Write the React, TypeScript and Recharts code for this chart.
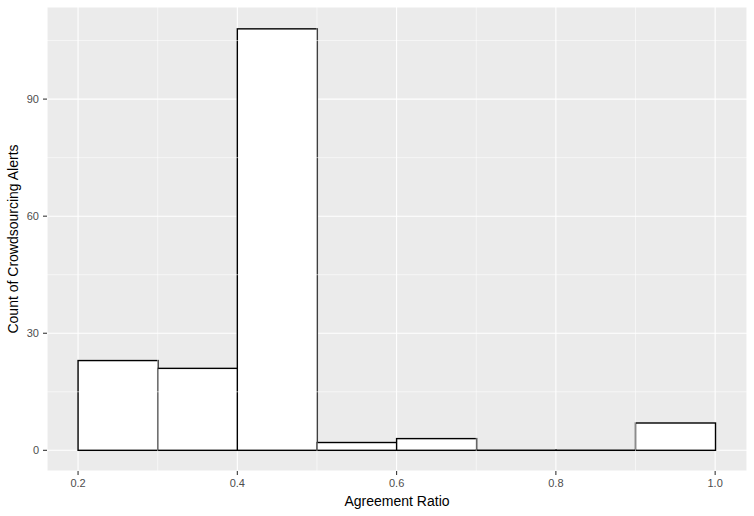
import React from 'react';
import { ComposedChart, Bar, XAxis, YAxis, CartesianGrid, ReferenceLine, Label } from 'recharts';

// histogram bins (bin width 0.1)
const binMids = [0.25, 0.35, 0.45, 0.55, 0.65, 0.75, 0.85, 0.95];
const binCounts = [23, 21, 108, 2, 3, 0, 0, 7];

const xTicks = [0.2, 0.4, 0.6, 0.8, 1.0];
const yTicks = [0, 30, 60, 90];
const xMinor = [0.3, 0.5, 0.7, 0.9];
const yMinor = [15, 45, 75, 105];

const data = binMids.map((mid, i) => ({ mid, count: binCounts[i] }));

const FONT = '"Liberation Sans", Arial, sans-serif';

// draw zero-height bins too, ggplot shows them as a flat line
const BinShape = (props: any) => {
  const { x, y, width, height } = props;
  if (x == null || width == null) return null;
  return <rect x={x} y={y} width={width} height={Math.max(height || 0, 0)} fill="#FFFFFF" stroke="#000000" strokeWidth={1.4} />;
};

const App: React.FC = () => {
  return (
    <div style={{ position: 'absolute', left: 0, top: 0, width: 754, height: 516, background: '#FFFFFF' }}>
      <ComposedChart
        width={754}
        height={516}
        data={data}
        margin={{ top: 7, right: 7, bottom: 0, left: 0 }}
        barCategoryGap={0}
        barGap={0}
      >
        <CartesianGrid stroke="#FFFFFF" strokeWidth={1.07} fill="#EBEBEB" />
        {xMinor.map(v => (
          <ReferenceLine key={`x${v}`} x={v} stroke="#FFFFFF" strokeWidth={0.55} />
        ))}
        {yMinor.map(v => (
          <ReferenceLine key={`y${v}`} y={v} stroke="#FFFFFF" strokeWidth={0.55} />
        ))}
        <XAxis
          dataKey="mid"
          type="number"
          domain={[0.161, 1.04]}
          allowDataOverflow
          ticks={xTicks}
          tickFormatter={(v: number) => v.toFixed(1)}
          height={45}
          axisLine={false}
          tickSize={4}
          tickMargin={4}
          tickLine={{ stroke: '#333333', strokeWidth: 1.07 }}
          tick={{ fill: '#4D4D4D', fontSize: 11, fontFamily: FONT }}
        >
          <Label value="Agreement Ratio" position="insideBottom" offset={10} fill="#000000" fontSize={14} fontFamily={FONT} />
        </XAxis>
        <YAxis
          type="number"
          domain={[-5.3, 113.6]}
          allowDataOverflow
          ticks={yTicks}
          width={47}
          axisLine={false}
          tickSize={4}
          tickMargin={4}
          tickLine={{ stroke: '#333333', strokeWidth: 1.07 }}
          tick={{ fill: '#4D4D4D', fontSize: 11, fontFamily: FONT }}
        >
          <Label
            value="Count of Crowdsourcing Alerts"
            angle={-90}
            position="insideLeft"
            offset={13}
            style={{ textAnchor: 'middle' }}
            fill="#000000"
            fontSize={14}
            fontFamily={FONT}
          />
        </YAxis>
        <Bar dataKey="count" shape={<BinShape />} minPointSize={0.1} isAnimationActive={false} />
      </ComposedChart>
    </div>
  );
};

export default App;
